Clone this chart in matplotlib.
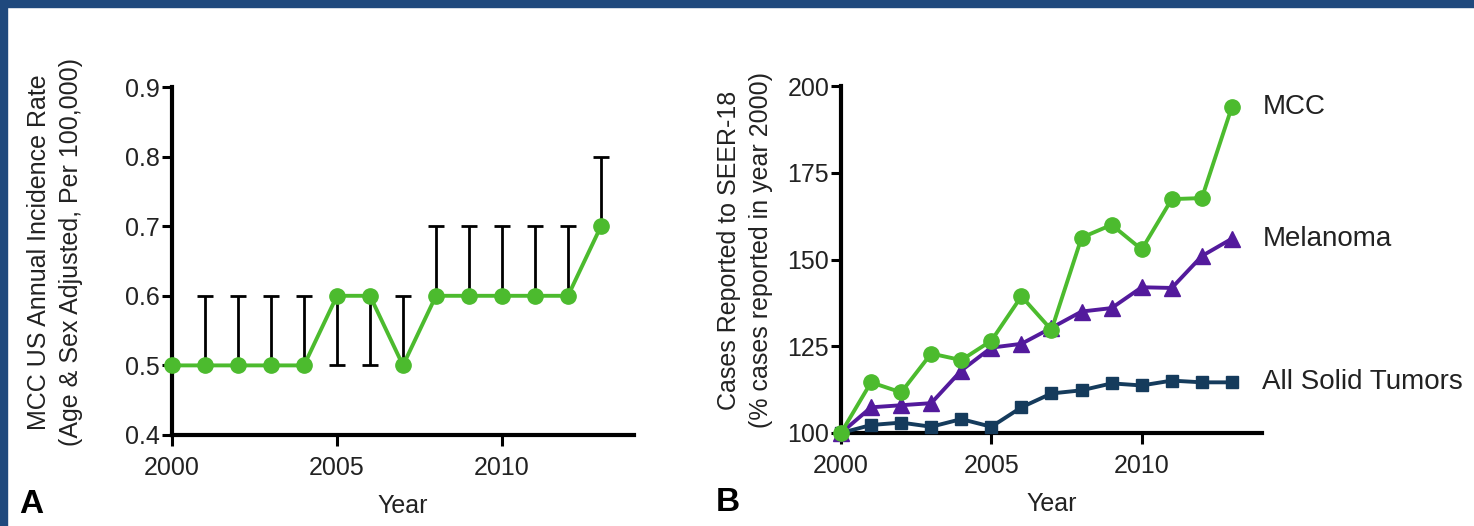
import numpy as np
import matplotlib
matplotlib.use('Agg')
import matplotlib.pyplot as plt
from matplotlib.patches import Rectangle

plt.rcParams['font.family'] = ['Liberation Sans', 'DejaVu Sans']

# panel A: MCC incidence rate with one-sided CI bars
years = list(range(2000, 2014))
mcc_rate = [0.5, 0.5, 0.5, 0.5, 0.5, 0.6, 0.6, 0.5, 0.6, 0.6, 0.6, 0.6, 0.6, 0.7]
ci_end = [np.nan, 0.6, 0.6, 0.6, 0.6, 0.5, 0.5, 0.6, 0.7, 0.7, 0.7, 0.7, 0.7, 0.8]

# panel B: cases relative to year 2000
mcc_cases = [100, 114.6, 111.7, 122.9, 121.0, 126.6, 139.4, 129.7, 156.3, 160.0,
             152.9, 167.4, 167.7, 194.0]
melanoma = [100, 107.4, 108.0, 108.6, 118.0, 124.6, 125.7, 130.3, 135.0, 136.0,
            142.0, 141.8, 151.0, 156.0]
solid = [100, 102.3, 103.0, 101.8, 104.0, 101.8, 107.4, 111.4, 112.3, 114.3,
         113.7, 115.1, 114.6, 114.6]
series_names = ['MCC', 'Melanoma', 'All Solid Tumors']

green = '#4cbb2e'
purple = '#531a9c'
navy = '#153b5c'
border = '#1f497d'
txt = '#222222'
fs = 18

W, H = 1474, 526
fig = plt.figure(figsize=(W / 100, H / 100), dpi=100)
fig.patch.set_facecolor('white')

# blue frame on top and left
fig.patches.append(Rectangle((0, 1 - 7 / H), 1, 7 / H, transform=fig.transFigure,
                             color=border, zorder=0))
fig.patches.append(Rectangle((0, 0), 7 / W, 1, transform=fig.transFigure,
                             color=border, zorder=0))


def style_axes(ax):
    for s in ['top', 'right']:
        ax.spines[s].set_visible(False)
    for s in ['left', 'bottom']:
        ax.spines[s].set_linewidth(3)
        ax.spines[s].set_capstyle('projecting')
    ax.tick_params(direction='out', length=7, width=2.2, labelsize=fs, pad=1.5,
                   colors='black', labelcolor=txt)
    ax.tick_params(axis='x', length=8, pad=7)


# ---- Panel A ----
axA = fig.add_axes([172 / W, (H - 435) / H, 462 / W, 348 / H])
style_axes(axA)
axA.vlines(years, mcc_rate, ci_end, color='black', lw=2, zorder=2)
axA.plot(years, ci_end, ls='none', marker='_', ms=12, mew=2, color='black', zorder=2)
axA.plot(years, mcc_rate, color=green, lw=2.8, marker='o', ms=11,
         zorder=3, clip_on=False)
axA.set_xlim(2000, 2014)
axA.set_ylim(0.4, 0.9)
axA.set_xticks([2000, 2005, 2010])
axA.set_yticks([0.4, 0.5, 0.6, 0.7, 0.8, 0.9])
axA.set_xlabel('Year', fontsize=fs, labelpad=10, color=txt)
axA.text(-0.253, 0.525, 'MCC US Annual Incidence Rate\n(Age & Sex Adjusted, Per 100,000)',
         transform=axA.transAxes, rotation=90, ha='center', va='center',
         multialignment='center', fontsize=fs, linespacing=1.4, color=txt)
axA.text(-0.305, -0.2, 'A', transform=axA.transAxes, fontsize=24,
         fontweight='bold', ha='center', va='center')

# ---- Panel B ----
axB = fig.add_axes([841 / W, (H - 433) / H, 421 / W, 347 / H])
style_axes(axB)
axB.plot(years, solid, color=navy, lw=2.8, marker='s', ms=8.5, zorder=3, clip_on=False)
axB.plot(years, melanoma, color=purple, lw=2.8, marker='^', ms=11, zorder=4, clip_on=False)
axB.plot(years, mcc_cases, color=green, lw=2.8, marker='o', ms=11, zorder=5, clip_on=False)
axB.set_xlim(2000, 2014)
axB.set_ylim(100, 200)
axB.set_xticks([2000, 2005, 2010])
axB.set_yticks([100, 125, 150, 175, 200])
axB.set_xlabel('Year', fontsize=fs, labelpad=10, color=txt)
axB.text(-0.228, 0.527, 'Cases Reported to SEER-18\n(% cases reported in year 2000)',
         transform=axB.transAxes, rotation=90, ha='center', va='center',
         multialignment='center', fontsize=fs, linespacing=1.4, color=txt)
axB.text(-0.27, -0.2, 'B', transform=axB.transAxes, fontsize=24,
         fontweight='bold', ha='center', va='center')

for name, vals in zip(series_names, [mcc_cases, melanoma, solid]):
    axB.annotate(name, xy=(years[-1], vals[-1]), xytext=(22, 0),
                 textcoords='offset points', fontsize=20, va='center', ha='left',
                 color=txt, annotation_clip=False)

fig.savefig('out.png', dpi=100)
